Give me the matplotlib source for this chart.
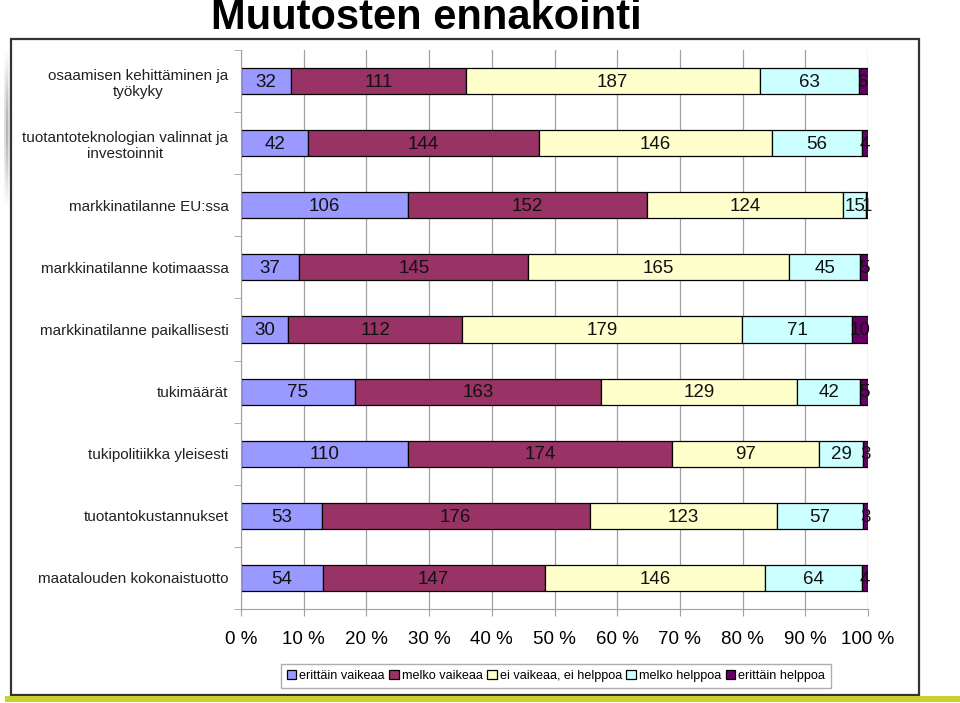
import numpy as np
import matplotlib.pyplot as plt
from matplotlib.patches import Rectangle

plt.rcParams['font.family'] = ['Liberation Sans', 'DejaVu Sans']

categories = [
    'osaamisen kehittäminen ja\ntyökyky',
    'tuotantoteknologian valinnat ja\ninvestoinnit',
    'markkinatilanne EU:ssa',
    'markkinatilanne kotimaassa',
    'markkinatilanne paikallisesti',
    'tukimäärät',
    'tukipolitiikka yleisesti',
    'tuotantokustannukset',
    'maatalouden kokonaistuotto',
]
series_names = ['erittäin vaikeaa', 'melko vaikeaa', 'ei vaikeaa, ei helppoa',
                'melko helppoa', 'erittäin helppoa']
erittain_vaikeaa = [32, 42, 106, 37, 30, 75, 110, 53, 54]
melko_vaikeaa = [111, 144, 152, 145, 112, 163, 174, 176, 147]
ei_vaikeaa_ei_helppoa = [187, 146, 124, 165, 179, 129, 97, 123, 146]
melko_helppoa = [63, 56, 15, 45, 71, 42, 29, 57, 64]
erittain_helppoa = [6, 4, 1, 5, 10, 5, 3, 3, 4]
x_ticks = [0, 10, 20, 30, 40, 50, 60, 70, 80, 90, 100]
colors = ['#9999FF', '#993366', '#FFFFCC', '#CCFFFF', '#660066']

W, H = 960, 703
fig = plt.figure(figsize=(W / 100, H / 100), dpi=100)

# slide frame and bottom stripe
fig.patches.append(Rectangle((11 / W, 1 - 695 / H), 908 / W, 656 / H, transform=fig.transFigure,
                             fill=False, edgecolor='#333333', linewidth=1.6, zorder=0))
fig.patches.append(Rectangle((5 / W, 1 - 702 / H), 955 / W, 6 / H, transform=fig.transFigure,
                             facecolor='#C8D22C', edgecolor='none', zorder=0))

# faint grey strip on the left edge of the slide
strip = fig.add_axes([4 / W, 1 - 210 / H, 6 / W, 163 / H])
shade = np.sin(np.linspace(0, np.pi, 50))[:, None] * np.array([[0.25, 0.5, 0.25]])
strip.imshow(shade, cmap='Greys', vmin=0, vmax=1.2, aspect='auto')
strip.axis('off')

fig.text(426 / W, 1 - 29 / H, 'Muutosten ennakointi', ha='center', va='baseline',
         fontsize=30, fontweight='bold')

ax = fig.add_axes([241 / W, 1 - 609 / H, 627 / W, 559 / H])

data = np.array([erittain_vaikeaa, melko_vaikeaa, ei_vaikeaa_ei_helppoa,
                 melko_helppoa, erittain_helppoa], dtype=float)
totals = data.sum(axis=0)
pct = data / totals * 100
y = np.arange(len(categories))
left = np.zeros(len(categories))
for i, name in enumerate(series_names):
    ax.barh(y, pct[i], left=left, height=0.42, color=colors[i], edgecolor='black',
            linewidth=0.9, label=name, zorder=2)
    for j in range(len(categories)):
        ax.text(left[j] + pct[i][j] / 2, y[j] + 0.02, str(int(data[i][j])), ha='center',
                va='center', fontsize=13.5, color='#111111', zorder=3)
    left += pct[i]

ax.set_xlim(0, 100)
ax.set_ylim(len(categories) - 0.5, -0.5)
ax.set_xticks(x_ticks)
ax.set_xticklabels([f'{t} %' for t in x_ticks], fontsize=13.5)
ax.grid(axis='x', color='#A0A0A0', linewidth=0.9, zorder=0)
ax.set_axisbelow(True)

ax.set_yticks(y)
ax.set_yticklabels(categories, fontsize=11, color='#222222')
for lab in ax.get_yticklabels():
    lab.set_multialignment('center')
ax.set_yticks(np.arange(-0.5, len(categories), 1), minor=True)
ax.tick_params(axis='y', which='major', length=0, pad=9)
ax.tick_params(axis='y', which='minor', length=5, color='#A0A0A0')
ax.tick_params(axis='x', length=5, color='#A0A0A0', pad=11)

for s in ['top', 'right']:
    ax.spines[s].set_visible(False)
for s in ['left', 'bottom']:
    ax.spines[s].set_color('#A0A0A0')

fig.legend(loc='center', bbox_to_anchor=(556 / W, 1 - 676 / H), ncol=5, fontsize=9.1,
           frameon=True, fancybox=False, edgecolor='#999999', handlelength=0.75,
           handleheight=0.75, handletextpad=0.25, columnspacing=0.35, borderpad=0.45,
           borderaxespad=0)

fig.savefig('out.png', dpi=100)
